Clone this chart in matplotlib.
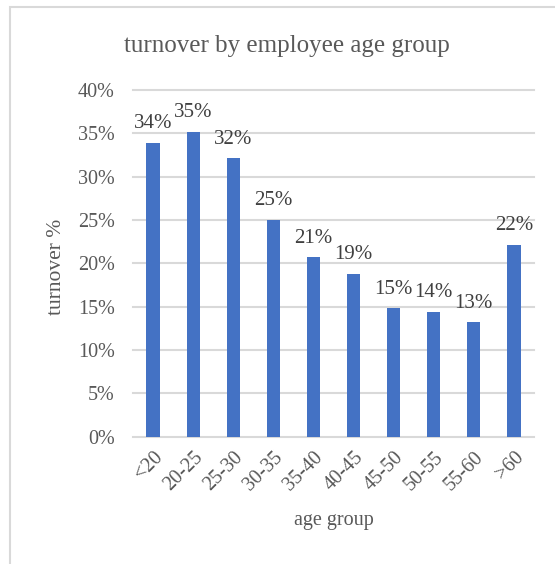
import numpy as np
import matplotlib
matplotlib.use("Agg")
import matplotlib.pyplot as plt
from matplotlib.patches import Rectangle
from matplotlib.ticker import PercentFormatter

# turnover rate per age band
age_groups = ["<20", "20-25", "25-30", "30-35", "35-40", "40-45", "45-50", "50-55", "55-60", ">60"]
turnover = [0.339, 0.352, 0.321, 0.250, 0.207, 0.188, 0.148, 0.144, 0.132, 0.221]
y_ticks = [0, 0.05, 0.10, 0.15, 0.20, 0.25, 0.30, 0.35, 0.40]

plt.rcParams["font.family"] = ["Liberation Serif", "DejaVu Serif"]
grey = "#595959"
grid_c = "#d9d9d9"
bar_c = "#4472C4"

fig = plt.figure(figsize=(5.55, 5.64), dpi=100)
ax = fig.add_axes([0.2396, 0.2257, 0.7225, 0.6147])

x = np.arange(len(age_groups))
bars = ax.bar(x, turnover, width=0.33, color=bar_c, zorder=3)

for xi, v in zip(x, turnover):
    ax.annotate("{:.0f}%".format(v * 100), (xi, v), xytext=(0, 7), textcoords="offset points",
                ha="center", va="bottom", fontsize=15, color="#404040")

ax.set_xlim(-0.5, len(age_groups) - 0.5)
ax.set_ylim(0, 0.40)
ax.set_yticks(y_ticks)
ax.yaxis.set_major_formatter(PercentFormatter(1.0, decimals=0))
ax.set_xticks(x)
ax.set_xticklabels(age_groups, rotation=45, ha="right", rotation_mode="anchor")
ax.tick_params(axis="both", length=0, labelsize=14.5, labelcolor=grey)
ax.tick_params(axis="y", pad=13)
ax.tick_params(axis="x", pad=8)

ax.yaxis.grid(True, color=grid_c, linewidth=1.5, zorder=0)
for gl in ax.get_ygridlines():
    gl.set_clip_on(False)
for s in ax.spines.values():
    s.set_visible(False)

ax.set_ylabel("turnover %", fontsize=15.5, color=grey)
ax.yaxis.set_label_coords(-0.168, 0.49)
ax.set_xlabel("age group", fontsize=14.5, color=grey, labelpad=12)
fig.text(0.516, 0.918, "turnover by employee age group", ha="center", va="center",
         fontsize=18, color=grey)

# chart frame (right and bottom edges run off the image)
fig.patches.append(Rectangle((10 / 555, -0.1), 1.2, 1 - 7 / 564 + 0.1, transform=fig.transFigure,
                             fill=False, edgecolor=grid_c, linewidth=1.5))

fig.savefig("out.png", dpi=100)
